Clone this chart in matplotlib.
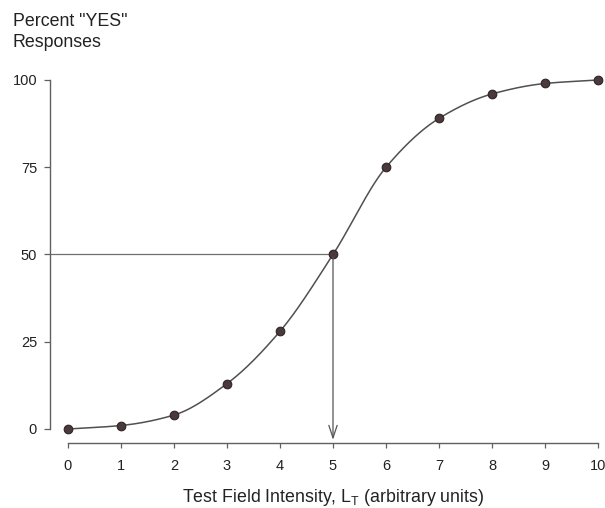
import numpy as np
import matplotlib
matplotlib.use("Agg")
import matplotlib.pyplot as plt

# Psychometric function: percent "YES" responses vs test field intensity
intensity = [0, 1, 2, 3, 4, 5, 6, 7, 8, 9, 10]
pct_yes = [0, 1, 4, 13, 28, 50, 75, 89, 96, 99, 100]
xticks = [0, 1, 2, 3, 4, 5, 6, 7, 8, 9, 10]
yticks = [0, 25, 50, 75, 100]
threshold_x = 5
threshold_y = 50


def pchip(x, y, xs):
    """Monotone cubic Hermite curve through the data points."""
    x = np.asarray(x, float)
    y = np.asarray(y, float)
    h = np.diff(x)
    d = np.diff(y) / h
    m = np.zeros_like(y)
    for k in range(1, len(x) - 1):
        if d[k - 1] * d[k] > 0:
            w1 = 2 * h[k] + h[k - 1]
            w2 = h[k] + 2 * h[k - 1]
            m[k] = (w1 + w2) / (w1 / d[k - 1] + w2 / d[k])
    m[0] = d[0]
    m[-1] = d[-1]
    idx = np.clip(np.searchsorted(x, xs) - 1, 0, len(x) - 2)
    t = (xs - x[idx]) / h[idx]
    h00 = 2 * t**3 - 3 * t**2 + 1
    h10 = t**3 - 2 * t**2 + t
    h01 = -2 * t**3 + 3 * t**2
    h11 = t**3 - t**2
    return (h00 * y[idx] + h10 * h[idx] * m[idx]
            + h01 * y[idx + 1] + h11 * h[idx] * m[idx + 1])


plt.rcParams['font.family'] = ['Liberation Sans', 'DejaVu Sans']

fig = plt.figure(figsize=(6.05, 5.08), dpi=100)
ax = fig.add_axes([68 / 605, 79 / 508, 530 / 605, 349 / 508])

xs = np.linspace(intensity[0], intensity[-1], 400)
ax.plot(xs, pchip(intensity, pct_yes, xs), color='#505050', lw=1.1,
        zorder=2, clip_on=False)
ax.plot(intensity, pct_yes, 'o', ms=6.2, color='#4a3a3c',
        mec='#2e2426', mew=0.8, zorder=3, clip_on=False)

# threshold guide lines
ax.plot([-0.34, threshold_x], [threshold_y, threshold_y],
        color='#707070', lw=0.9, clip_on=False, zorder=1)
ax.annotate('', xy=(threshold_x, -3.9), xytext=(threshold_x, threshold_y),
            xycoords='data', annotation_clip=False,
            arrowprops=dict(arrowstyle='->,head_length=0.9,head_width=0.3',
                            color='#555555', lw=0.9))

ax.set_xlim(0, 10)
ax.set_ylim(0, 100)
ax.set_xticks(xticks)
ax.set_yticks(yticks)

for s in ('top', 'right'):
    ax.spines[s].set_visible(False)
ax.spines['left'].set_position(('outward', 13))
ax.spines['bottom'].set_position(('outward', 10))
ax.spines['left'].set_bounds(0, 100)
ax.spines['bottom'].set_bounds(0, 10)
for s in ('left', 'bottom'):
    ax.spines[s].set_color('#606060')
    ax.spines[s].set_linewidth(1.0)

ax.tick_params(axis='y', direction='out', length=4.3, width=0.9,
               color='#606060', pad=5, labelsize=10.5, labelcolor='#222222')
ax.tick_params(axis='x', direction='out', length=3.6, width=0.9,
               color='#606060', pad=8, labelsize=10.5, labelcolor='#222222')

ax.set_xlabel('Test Field Intensity, L$_\\mathregular{T}$ (arbitrary units)',
              fontsize=12.8, color='#222222', labelpad=10)
fig.text(13 / 605, 1 - 13 / 508, 'Percent "YES"\nResponses', ha='left',
         va='top', fontsize=12.8, color='#222222', linespacing=1.3)

fig.savefig('out.png', dpi=100)
